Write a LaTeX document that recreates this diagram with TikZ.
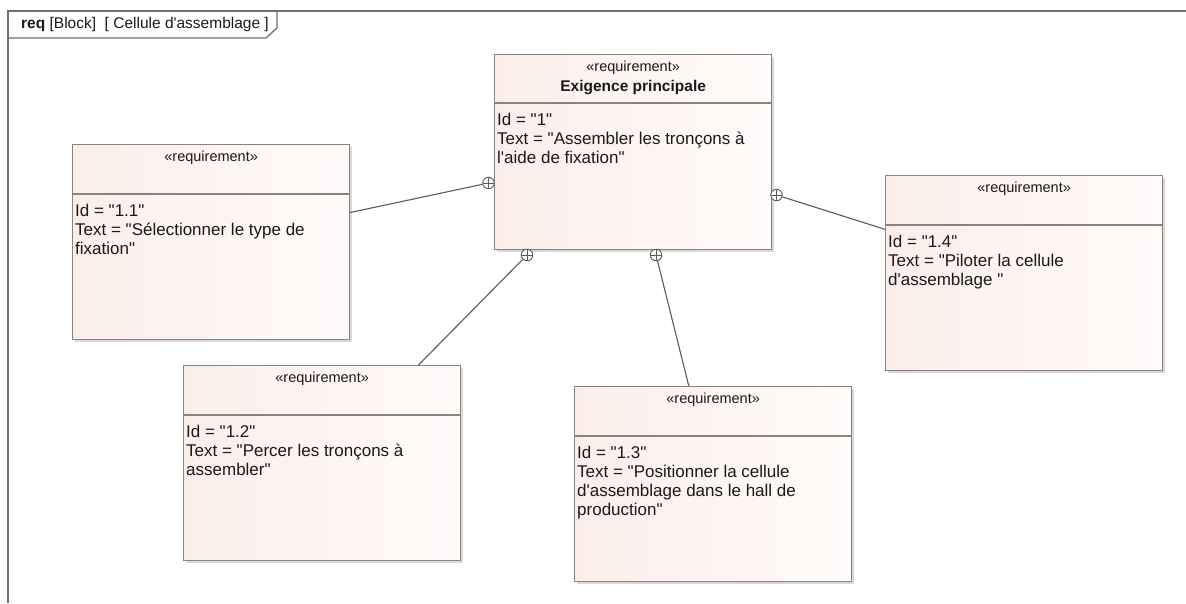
\documentclass[tikz,border=0pt]{standalone}
\usepackage{fontspec}
\setmainfont{Liberation Sans}[Ligatures=TeXOff]
\usetikzlibrary{calc,shadows}

\definecolor{reqborder}{HTML}{8C817D}
\definecolor{reqfillA}{HTML}{FBEEEA}
\definecolor{reqfillB}{HTML}{FFFBFA}
\definecolor{framegray}{HTML}{707070}
\definecolor{linkgray}{HTML}{5A5A5A}
\definecolor{txt}{HTML}{1A1A1A}

\tikzset{
  reqbox/.style={rectangle, anchor=north west, draw=reqborder, line width=1.3,
    left color=reqfillA, right color=reqfillB,
    drop shadow={shadow xshift=2.5pt, shadow yshift=-2.5pt, opacity=0.3, fill=gray},
    minimum width=277, minimum height=195, inner sep=0},
  divider/.style={draw=reqborder, line width=1.1},
  stereo/.style={font=\fontsize{14.5}{16}\selectfont, text=txt, inner sep=0},
  reqtitle/.style={font=\fontsize{15.5}{17}\selectfont\bfseries, text=txt, inner sep=0},
  reqbody/.style={anchor=north west, inner sep=0, align=left,
    font=\fontsize{17}{19}\selectfont, text=txt},
  contain/.style={circle, draw=linkgray, fill=white, inner sep=0, minimum size=11.5,
    line width=0.9,
    path picture={\draw[linkgray, line width=0.8]
      (path picture bounding box.north) -- (path picture bounding box.south)
      (path picture bounding box.west) -- (path picture bounding box.east);}},
  link/.style={draw=linkgray, line width=1.1},
  frameline/.style={draw=framegray, line width=1.8},
}

\begin{document}
\begin{tikzpicture}[x=1pt, y=-1pt]
  \useasboundingbox (0,0) rectangle (1186,603);
  \fill[white] (0,0) rectangle (1186,603);

  % diagram frame and its name tab
  \draw[frameline] (8,603) -- (8,11) -- (1186,11);
  \draw[frameline, line width=1.3] (8,38) -- (266,38) -- (277,28) -- (277,11);
  \node[anchor=west, inner sep=0, font=\fontsize{15.5}{17}\selectfont, text=txt] (hdr) at (21,24)
    {\textbf{req} [Block]\ \ [ Cellule d'assemblage ]};

  % requirement blocks
  \node[reqbox] (r1) at (494,54) {};
  \node[reqbox] (r11) at (72,144) {};
  \node[reqbox] (r12) at (183,365) {};
  \node[reqbox] (r13) at (574,386) {};
  \node[reqbox] (r14) at (885,175) {};

  % compartment dividers
  \draw[divider] ($(r1.north west)+(0,49)$) -- ($(r1.north east)+(0,49)$);
  \foreach \r in {r11,r12,r13,r14}
    \draw[divider] ($(\r.north west)+(0,50)$) -- ($(\r.north east)+(0,50)$);

  % main requirement
  \node[stereo] (r1st) at ($(r1.north)+(0,14)$) {«requirement»};
  \node[reqtitle] (r1nm) at ($(r1.north)+(0,34)$) {Exigence principale};
  \node[reqbody] (r1tx) at ($(r1.north west)+(3,58.5)$)
    {Id = "1"\\Text = "Assembler les tronçons à\\l'aide de fixation"};

  % sub-requirements
  \node[stereo] (r11st) at ($(r11.north)+(0,14)$) {«requirement»};
  \node[reqbody] (r11tx) at ($(r11.north west)+(3,59.5)$)
    {Id = "1.1"\\Text = "Sélectionner le type de\\fixation"};

  \node[stereo] (r12st) at ($(r12.north)+(0,14)$) {«requirement»};
  \node[reqbody] (r12tx) at ($(r12.north west)+(3,59.5)$)
    {Id = "1.2"\\Text = "Percer les tronçons à\\assembler"};

  \node[stereo] (r13st) at ($(r13.north)+(0,14)$) {«requirement»};
  \node[reqbody] (r13tx) at ($(r13.north west)+(3,59.5)$)
    {Id = "1.3"\\Text = "Positionner la cellule\\d'assemblage dans le hall de\\production"};

  \node[stereo] (r14st) at ($(r14.north)+(0,14)$) {«requirement»};
  \node[reqbody] (r14tx) at ($(r14.north west)+(3,59.5)$)
    {Id = "1.4"\\Text = "Piloter la cellule\\d'assemblage "};

  % containment connectors
  \node[contain] (c11) at (488.5,183) {};
  \node[contain] (c12) at (527,255) {};
  \node[contain] (c13) at (656,255) {};
  \node[contain] (c14) at (776.5,195) {};

  \draw[link] (c11) -- (r11);
  \draw[link] (c12) -- (r12);
  \draw[link] (c13) -- (r13);
  \draw[link] (c14) -- (r14);
\end{tikzpicture}
\end{document}
